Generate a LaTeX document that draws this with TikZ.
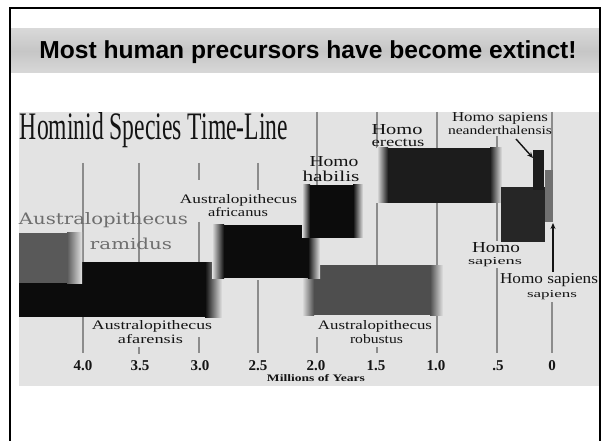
\documentclass[tikz,border=0pt]{standalone}
\usepackage{fontspec}
\setmainfont{Liberation Serif}
\setsansfont{Liberation Sans}
\newfontfamily\widefont{DejaVu Serif}
\usepackage{graphicx}
\usetikzlibrary{arrows.meta}
\definecolor{chartbg}{HTML}{E3E3E3}
\definecolor{bandmid}{HTML}{C6C6C6}
\definecolor{bandedge}{HTML}{D8D8D8}
\definecolor{gridgray}{HTML}{8C8C8C}
\definecolor{ink}{HTML}{141414}
\definecolor{ramink}{HTML}{6E6E6E}
\definecolor{barblack}{HTML}{0C0C0C}
\definecolor{bardark}{HTML}{1C1C1C}
\definecolor{barsap}{HTML}{262626}
\definecolor{barrob}{HTML}{4E4E4E}
\definecolor{barram}{HTML}{595959}
\definecolor{barss}{HTML}{707070}
\newcommand\fitbox[3]{\resizebox{#1pt}{#2pt}{#3}}
% x1 y1 x2 y2 colour leftfade rightfade
\newcommand\fadebar[7]{%
  \fill[#5] ({#1+#6},#2) rectangle ({#3-#7},#4);
  \ifdim #6pt>0pt \shade[left color=chartbg, right color=#5] (#1,#2) rectangle ({#1+#6},#4);\fi
  \ifdim #7pt>0pt \shade[left color=#5, right color=chartbg] ({#3-#7},#2) rectangle (#3,#4);\fi
}
\begin{document}
\begin{tikzpicture}[x=1pt,y=-1pt,
  lbl/.style={inner sep=0pt, anchor=base, text=ink},
  ramlbl/.style={lbl, text=ramink},
  ticklbl/.style={inner sep=0pt, anchor=base, text=ink, font=\fontsize{15}{16}\selectfont\bfseries},
  grid/.style={draw=gridgray, line width=1.3pt},
  arr/.style={draw=ink, line width=1.4pt, -{Stealth[length=6pt,width=5pt]}},
  frame/.style={draw=black, line width=2.4pt, line join=miter}]
\useasboundingbox (0,0) rectangle (603,441);
\fill[white] (0,0) rectangle (603,441);
% headline band
\shade[top color=bandedge, bottom color=bandedge, middle color=bandmid] (11,29) rectangle (599,73);
\node[inner sep=0pt, anchor=base, font=\sffamily\bfseries\fontsize{24.6}{28}\selectfont] (headline) at (308,58.5) {Most human precursors have become extinct!};
% chart background
\fill[chartbg] (19,112) rectangle (599,386);
% grid lines
\draw[grid] (83,163) -- (83,353);
\draw[grid] (139,163) -- (139,262) (139,347) -- (139,354);
\draw[grid] (199,163) -- (199,180) (199,222) -- (199,262) (199,337) -- (199,353);
\draw[grid] (258,163) -- (258,190) (258,280) -- (258,353);
\draw[grid] (317,112) -- (317,185) (317,337) -- (317,353);
\draw[grid] (377,112) -- (377,148) (377,203) -- (377,265) (377,347) -- (377,353);
\draw[grid] (437,112) -- (437,148) (437,203) -- (437,353);
\draw[grid] (497,136) -- (497,148) (497,203) -- (497,241) (497,268) -- (497,353);
\draw[grid] (552,112) -- (552,170) (552,302) -- (552,353);
% bars
\fadebar{302}{265}{443}{315}{barrob}{12}{13}
\fadebar{19}{262}{222}{317}{barblack}{0}{17}
\fadebar{212}{225}{320}{278}{barblack}{12}{12}
\fadebar{302}{185}{363}{238}{barblack}{8}{10}
\fadebar{19}{233}{82}{283}{barram}{0}{15}
\fadebar{377}{148}{502}{203}{bardark}{11}{12}
\fill[barsap] (501,187) rectangle (545,242);
\fill[bardark] (533,150) rectangle (544,190);
\fill[barss] (545,170) rectangle (553,222);
% chart title
\node[lbl] (charttitle) at (154,140) {\fitbox{268}{27}{Hominid Species Time-Line}};
% species labels
\node[ramlbl] (ramA) at (103.5,225) {\fitbox{169}{12}{\widefont Australopithecus}};
\node[ramlbl] (ramB) at (131,250) {\fitbox{82}{11.5}{\widefont ramidus}};
\node[lbl] (afrA) at (238.5,204) {\fitbox{117}{9}{Australopithecus}};
\node[lbl] (afrB) at (238,217) {\fitbox{60}{9}{africanus}};
\node[lbl] (habA) at (334,166.5) {\fitbox{49}{10}{Homo}};
\node[lbl] (habB) at (331,181.5) {\fitbox{57}{10.5}{habilis}};
\node[lbl] (ereA) at (397,134.5) {\fitbox{51}{10}{Homo}};
\node[lbl] (ereB) at (398,147) {\fitbox{53}{7.5}{erectus}};
\node[lbl] (neaA) at (500,122) {\fitbox{96}{9}{Homo sapiens}};
\node[lbl] (neaB) at (500,135) {\fitbox{104}{8.5}{neanderthalensis}};
\node[lbl] (sapA) at (496,252.5) {\fitbox{48}{10}{Homo}};
\node[lbl] (sapB) at (495,264) {\fitbox{54}{7}{sapiens}};
\node[lbl] (ssA) at (549,283.5) {\fitbox{98}{10}{Homo sapiens}};
\node[lbl] (ssB) at (552,297) {\fitbox{50}{7}{sapiens}};
\node[lbl] (afaA) at (152,329) {\fitbox{120}{9}{Australopithecus}};
\node[lbl] (afaB) at (150.5,343) {\fitbox{65}{9}{afarensis}};
\node[lbl] (robA) at (375,329) {\fitbox{114}{9}{Australopithecus}};
\node[lbl] (robB) at (376.5,343) {\fitbox{53}{9}{robustus}};
% arrows
\coordinate (neaFrom) at (516,139);
\coordinate (neaTip) at (533,158);
\draw[arr] (neaFrom) -- (neaTip);
\coordinate (ssFrom) at (553,272);
\coordinate (ssTip) at (553,223);
\draw[arr] (ssFrom) -- (ssTip);
% axis
\node[ticklbl] (t40) at (83,370) {4.0};
\node[ticklbl] (t35) at (140,370) {3.5};
\node[ticklbl] (t30) at (200,370) {3.0};
\node[ticklbl] (t25) at (258,370) {2.5};
\node[ticklbl] (t20) at (316,370) {2.0};
\node[ticklbl] (t15) at (376,370) {1.5};
\node[ticklbl] (t10) at (436,370) {1.0};
\node[ticklbl] (t05) at (498,370) {.5};
\node[ticklbl] (t00) at (552,370) {0};
\node[lbl] (axislbl) at (316,381) {\fitbox{98}{7}{\bfseries Millions of Years}};
% frame
\draw[frame] (10,441) -- (10,8) -- (600,8) -- (600,441);
\end{tikzpicture}
\end{document}
